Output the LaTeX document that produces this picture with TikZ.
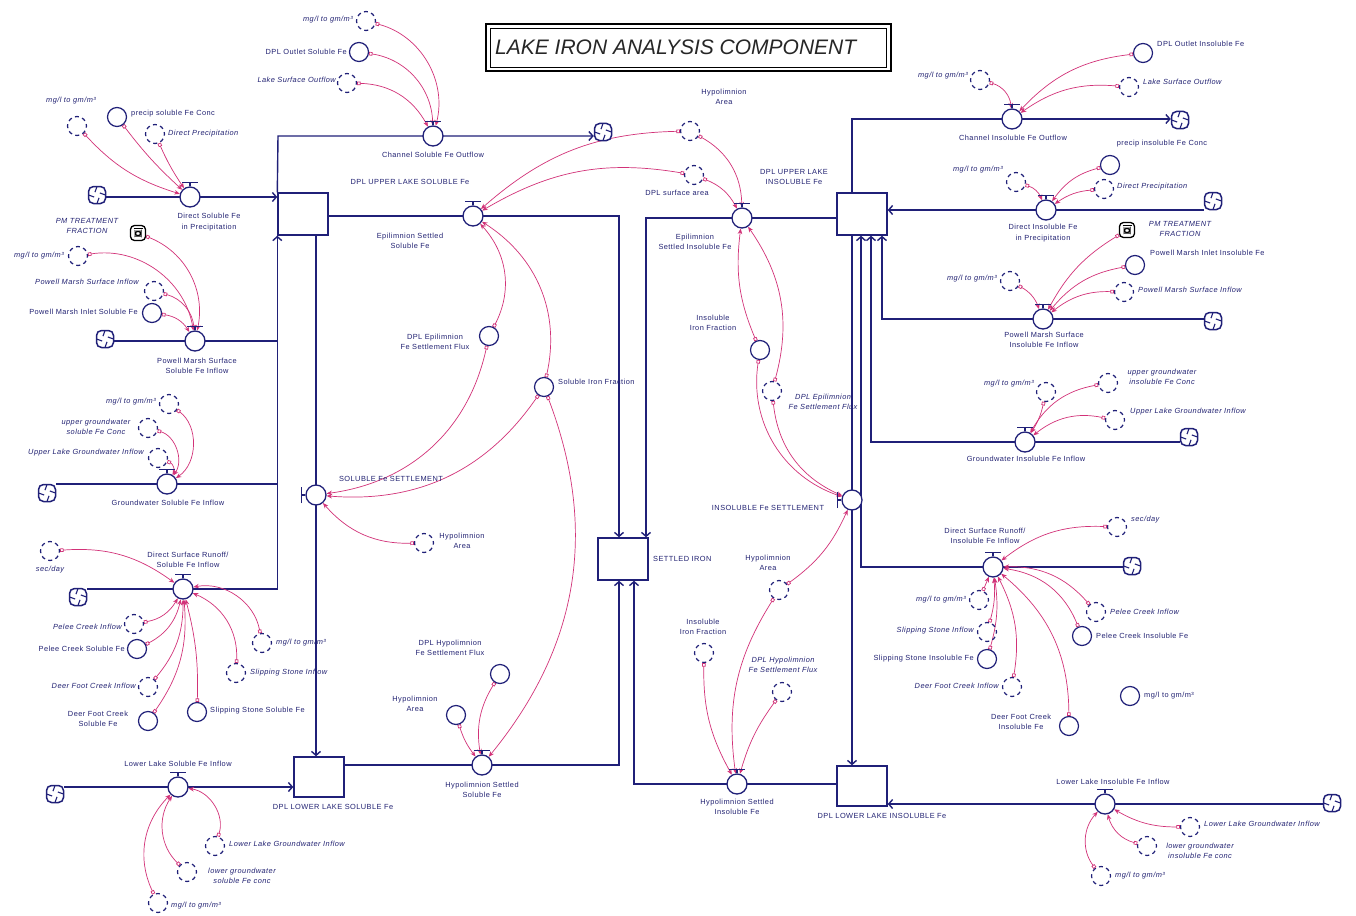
\documentclass[tikz,border=0pt]{standalone}
\usepackage{fontspec}
\newfontfamily\labfont[LetterSpace=6]{Liberation Sans}
\newfontfamily\titlefont{Liberation Sans}
\usetikzlibrary{arrows.meta,calc,backgrounds}
\definecolor{pipeblue}{RGB}{32,32,120}
\definecolor{txtblue}{RGB}{35,35,115}
\definecolor{linkc}{RGB}{210,50,120}
\newcommand\labsize{\fontsize{7.4}{10.5}\selectfont}
\tikzset{
  conv/.style={circle,draw=pipeblue,line width=1.2pt,minimum size=19pt,inner sep=0pt},
  gconv/.style={conv,dash pattern=on 4pt off 3.46pt,dash phase=2pt},
  valve/.style={circle,draw=pipeblue,fill=white,line width=1.3pt,minimum size=20pt,inner sep=0pt},
  stock/.style={draw=pipeblue,fill=white,line width=1.4pt,minimum width=50pt,minimum height=42pt,inner sep=0pt},
  cloud/.style={draw=pipeblue,fill=white,line width=1.5pt,rounded corners=5pt,minimum size=17pt,inner sep=0pt,
    path picture={\foreach \a in {0,90,180,270}{\draw[line width=1.1pt,pipeblue] ($(path picture bounding box.center)+(\a:8.5pt)$) -- ($(path picture bounding box.center)+(\a+35:3.5pt)$);}}},
  pmicon/.style={draw=black,fill=white,line width=1.3pt,rounded corners=4pt,minimum width=15pt,minimum height=15pt,inner sep=0pt,
    path picture={\draw[black,line width=1pt] ($(path picture bounding box.center)+(-3pt,-3pt)$) rectangle ($(path picture bounding box.center)+(3pt,2pt)$);
      \draw[black,line width=1pt] ($(path picture bounding box.north west)+(3pt,-3pt)$) -- ($(path picture bounding box.north east)+(-3pt,-3pt)$);}},
  lab/.style={text=txtblue,font=\labfont\labsize,inner sep=0pt,align=center},
  glab/.style={lab,font=\labfont\labsize\itshape},
  pipe/.style={draw=pipeblue,line width=1.4pt},
  pipeA/.style={pipe,-{Straight Barb[length=4pt,width=9pt]}},
  link/.style={draw=linkc,line width=0.7pt,{Square[open,length=3.5pt,width=3.5pt]}-{Stealth[length=5.5pt,width=4.5pt]}},
  vl/.style={bend left=#1},
  vr/.style={bend right=#1},
}
\newcommand\vlvH[2]{\node[valve] (#1) at (#2) {};
  \draw[pipe] ($(#1.north)+(-8pt,4pt)$) -- ($(#1.north)+(8pt,4pt)$) (#1.north) -- ($(#1.north)+(0pt,4pt)$);}
\newcommand\vlvV[2]{\node[valve] (#1) at (#2) {};
  \draw[pipe] ($(#1.west)+(-4pt,-8pt)$) -- ($(#1.west)+(-4pt,8pt)$) (#1.west) -- ($(#1.west)+(-4pt,0pt)$);}
\begin{document}
\begin{tikzpicture}[x=1pt,y=-1pt]
\useasboundingbox (0,0) rectangle (1356,915);

% title
\node[draw=black,line width=2.2pt,minimum width=405pt,minimum height=47pt,inner sep=0pt] (T1) at (688.5,47.5) {};
\node[draw=black,line width=0.7pt,minimum width=396pt,minimum height=39pt,inner sep=0pt] (T2) at (688.5,47.5) {};
\node[anchor=west,text=black!85,font=\titlefont\fontsize{21}{24}\selectfont\itshape,inner sep=0pt] (Tt) at (495,47) {LAKE IRON ANALYSIS COMPONENT};

% stocks
\node[stock] (SUS) at (303,214) {};
\node[stock] (SUI) at (862,214) {};
\node[stock] (SET) at (623,559) {};
\node[stock,minimum height=40pt] (SLS) at (319,777) {};
\node[stock,minimum height=40pt] (SLI) at (862,786) {};
\node[lab] (lSUS) at (410,182) {DPL UPPER LAKE SOLUBLE Fe};
\node[lab] (lSUI) at (794,177) {DPL UPPER LAKE\\INSOLUBLE Fe};
\node[lab,anchor=west] (lSET) at (653,559) {SETTLED IRON};
\node[lab] (lSLS) at (333,807) {DPL LOWER LAKE SOLUBLE Fe};
\node[lab] (lSLI) at (882,816) {DPL LOWER LAKE INSOLUBLE Fe};

% clouds
\node[cloud] (CL1) at (603,132) {};
\node[cloud] (CL2) at (97,195) {};
\node[cloud] (CL3) at (105,339) {};
\node[cloud] (CL4) at (47,493) {};
\node[cloud] (CL5) at (78,597) {};
\node[cloud] (CL6) at (55,794) {};
\node[cloud] (CR1) at (1180,120) {};
\node[cloud] (CR2) at (1213,201) {};
\node[cloud] (CR3) at (1213,321) {};
\node[cloud] (CR4) at (1189,437) {};
\node[cloud] (CR5) at (1132,566) {};
\node[cloud] (CR6) at (1332,803) {};

% valves
\vlvH{VA}{433,136}
\vlvH{VB}{190,197}
\vlvH{VC}{195,341}
\vlvH{VD}{167,484}
\vlvH{VE}{183,589}
\vlvH{VF}{178,787}
\vlvH{VG}{473,216}
\vlvH{VH}{742,218}
\vlvV{VI}{316,495}
\vlvH{VJ}{482,765}
\vlvV{VK}{852,500}
\vlvH{VL}{737,784}
\vlvH{VM}{1012,119}
\vlvH{VN}{1046,210}
\vlvH{VO}{1043,319}
\vlvH{VP}{1025,442}
\vlvH{VQ}{993,567}
\vlvH{VR}{1105,804}

% ---------- left side ----------
\node[gconv] (ca1) at (366,21) {};
\node[glab,anchor=east] (la1) at (353,20) {mg/l to gm/m³};
\node[conv] (ca2) at (359,52) {};
\node[lab,anchor=east] (la2) at (347,52) {DPL Outlet Soluble Fe};
\node[gconv] (ca3) at (347,83) {};
\node[glab,anchor=east] (la3) at (336,80) {Lake Surface Outflow};
\node[lab] (lVA) at (433,155) {Channel Soluble Fe Outflow};

\node[gconv] (cb1) at (77,126) {};
\node[glab] (lb1) at (71,101) {mg/l to gm/m³};
\node[conv] (cb2) at (117,117) {};
\node[lab,anchor=west] (lb2) at (131,114) {precip soluble Fe Conc};
\node[gconv] (cb3) at (155,134) {};
\node[glab,anchor=west] (lb3) at (168,134) {Direct Precipitation};
\node[lab] (lVB) at (209,222) {Direct Soluble Fe\\in Precipitation};

\node[pmicon] (cc1) at (138,233) {};
\node[glab] (lc1) at (87,226) {PM TREATMENT\\FRACTION};
\node[gconv] (cc2) at (78,256) {};
\node[glab,anchor=east] (lc2) at (64,256) {mg/l to gm/m³};
\node[gconv] (cc3) at (154,291) {};
\node[glab,anchor=east] (lc3) at (139,282) {Powell Marsh Surface Inflow};
\node[conv] (cc4) at (152,313) {};
\node[lab,anchor=east] (lc4) at (138,312) {Powell Marsh Inlet Soluble Fe};
\node[lab] (lVC) at (197,366) {Powell Marsh Surface\\Soluble Fe Inflow};

\node[gconv] (cd1) at (169,404) {};
\node[glab,anchor=east] (ld1) at (156,402) {mg/l to gm/m³};
\node[gconv] (cd2) at (148,428) {};
\node[glab] (ld2) at (96,427) {upper groundwater\\soluble Fe Conc};
\node[gconv] (cd3) at (158,458) {};
\node[glab,anchor=east] (ld3) at (144,453) {Upper Lake Groundwater Inflow};
\node[lab] (lVD) at (168,503) {Groundwater Soluble Fe Inflow};

\node[gconv] (ce1) at (50,551) {};
\node[glab] (le1) at (50,570) {sec/day};
\node[gconv] (ce2) at (134,624) {};
\node[glab,anchor=east] (le2) at (122,627) {Pelee Creek Inflow};
\node[conv] (ce3) at (137,649) {};
\node[lab,anchor=east] (le3) at (125,649) {Pelee Creek Soluble Fe};
\node[gconv] (ce4) at (148,687) {};
\node[glab,anchor=east] (le4) at (136,686) {Deer Foot Creek Inflow};
\node[conv] (ce5) at (148,721) {};
\node[lab] (le5) at (98,719) {Deer Foot Creek\\Soluble Fe};
\node[gconv] (ce6) at (262,643) {};
\node[glab,anchor=west] (le6) at (276,643) {mg/l to gm/m³};
\node[gconv] (ce7) at (236,673) {};
\node[glab,anchor=west] (le7) at (250,673) {Slipping Stone Inflow};
\node[conv] (ce8) at (197,712) {};
\node[lab,anchor=west] (le8) at (210,711) {Slipping Stone Soluble Fe};
\node[lab] (lVE) at (188,560) {Direct Surface Runoff/\\Soluble Fe Inflow};

\node[gconv] (cf1) at (215,846) {};
\node[glab,anchor=west] (lf1x) at (229,844) {Lower Lake Groundwater Inflow};
\node[gconv] (cf2) at (187,872) {};
\node[glab] (lf2x) at (242,876) {lower groundwater\\soluble Fe conc};
\node[gconv] (cf3) at (158,903) {};
\node[glab,anchor=west] (lf3x) at (171,906) {mg/l to gm/m³};
\node[lab] (lVF) at (178,764) {Lower Lake Soluble Fe Inflow};

% ---------- middle ----------
\node[gconv] (h1) at (690,131) {};
\node[lab] (lh1) at (724,97) {Hypolimnion\\Area};
\node[gconv] (h2) at (694,175) {};
\node[lab] (lh2) at (677,193) {DPL surface area};
\node[lab] (lVG) at (410,241) {Epilimnion Settled\\Soluble Fe};
\node[lab] (lVH) at (695,242) {Epilimnion\\Settled Insoluble Fe};
\node[conv] (f1) at (489,336) {};
\node[lab] (lf1) at (435,342) {DPL Epilimnion\\Fe Settlement Flux};
\node[conv] (f2) at (544,387) {};
\node[lab,anchor=west] (lf2) at (558,382) {Soluble Iron Fraction};
\node[lab] (lVI) at (391,479) {SOLUBLE Fe SETTLEMENT};
\node[gconv] (h3) at (424,543) {};
\node[lab] (lh3) at (462,541) {Hypolimnion\\Area};
\node[lab] (lVJ) at (482,790) {Hypolimnion Settled\\Soluble Fe};
\node[conv] (f3) at (500,674) {};
\node[lab] (lf3) at (450,648) {DPL Hypolimnion\\Fe Settlement Flux};
\node[conv] (f4) at (456,715) {};
\node[lab] (lf4) at (415,704) {Hypolimnion\\Area};
\node[lab] (lVK) at (768,508) {INSOLUBLE Fe SETTLEMENT};
\node[conv] (f5) at (760,350) {};
\node[lab] (lf5) at (713,323) {Insoluble\\Iron Fraction};
\node[gconv] (f6) at (772,391) {};
\node[glab] (lf6) at (823,402) {DPL Epilimnion\\Fe Settlement Flux};
\node[gconv] (h4) at (779,590) {};
\node[lab] (lh4) at (768,563) {Hypolimnion\\Area};
\node[gconv] (f7) at (704,653) {};
\node[lab] (lf7) at (703,627) {Insoluble\\Iron Fraction};
\node[gconv] (f8) at (782,692) {};
\node[glab] (lf8) at (783,665) {DPL Hypolimnion\\Fe Settlement Flux};
\node[lab] (lVL) at (737,807) {Hypolimnion Settled\\Insoluble Fe};

% ---------- right side ----------
\node[gconv] (cm1) at (980,80) {};
\node[glab,anchor=east] (lm1) at (968,76) {mg/l to gm/m³};
\node[conv] (cm2) at (1143,53) {};
\node[lab,anchor=west] (lm2) at (1157,44) {DPL Outlet Insoluble Fe};
\node[gconv] (cm3) at (1129,87) {};
\node[glab,anchor=west] (lm3) at (1143,82) {Lake Surface Outflow};
\node[lab] (lVM) at (1013,138) {Channel Insoluble Fe Outflow};

\node[gconv] (cn1) at (1016,182) {};
\node[glab,anchor=east] (ln1) at (1003,170) {mg/l to gm/m³};
\node[conv] (cn2) at (1110,165) {};
\node[lab] (ln2) at (1162,144) {precip insoluble Fe Conc};
\node[gconv] (cn3) at (1104,189) {};
\node[glab,anchor=west] (ln3) at (1117,187) {Direct Precipitation};
\node[lab] (lVN) at (1043,233) {Direct Insoluble Fe\\in Precipitation};

\node[pmicon] (co1) at (1127,230) {};
\node[glab] (lo1) at (1180,229) {PM TREATMENT\\FRACTION};
\node[conv] (co2) at (1135,265) {};
\node[lab,anchor=west] (lo2) at (1150,253) {Powell Marsh Inlet Insoluble Fe};
\node[gconv] (co3) at (1124,292) {};
\node[glab,anchor=west] (lo3) at (1138,290) {Powell Marsh Surface Inflow};
\node[gconv] (co4) at (1010,281) {};
\node[glab,anchor=east] (lo4) at (997,279) {mg/l to gm/m³};
\node[lab] (lVO) at (1044,340) {Powell Marsh Surface\\Insoluble Fe Inflow};

\node[gconv] (cp1) at (1046,392) {};
\node[glab,anchor=east] (lp1) at (1034,384) {mg/l to gm/m³};
\node[gconv] (cp2) at (1108,383) {};
\node[glab] (lp2) at (1162,377) {upper groundwater\\insoluble Fe Conc};
\node[gconv] (cp3) at (1115,420) {};
\node[glab,anchor=west] (lp3) at (1130,412) {Upper Lake Groundwater Inflow};
\node[lab] (lVP) at (1026,459) {Groundwater Insoluble Fe Inflow};

\node[gconv] (cq1) at (1117,527) {};
\node[glab,anchor=west] (lq1) at (1131,520) {sec/day};
\node[gconv] (cq2) at (979,600) {};
\node[glab,anchor=east] (lq2) at (966,600) {mg/l to gm/m³};
\node[gconv] (cq3) at (1096,612) {};
\node[glab,anchor=west] (lq3) at (1110,612) {Pelee Creek Inflow};
\node[conv] (cq4) at (1082,636) {};
\node[lab,anchor=west] (lq4) at (1096,636) {Pelee Creek Insoluble Fe};
\node[gconv] (cq5) at (987,632) {};
\node[glab,anchor=east] (lq5) at (974,631) {Slipping Stone Inflow};
\node[conv] (cq6) at (987,659) {};
\node[lab,anchor=east] (lq6) at (974,659) {Slipping Stone Insoluble Fe};
\node[gconv] (cq7) at (1012,687) {};
\node[glab,anchor=east] (lq7) at (999,686) {Deer Foot Creek Inflow};
\node[conv] (cq8) at (1069,726) {};
\node[lab] (lq8) at (1021,722) {Deer Foot Creek\\Insoluble Fe};
\node[conv] (cq9) at (1130,696) {};
\node[lab,anchor=west] (lq9) at (1144,696) {mg/l to gm/m³};
\node[lab] (lVQ) at (985,536) {Direct Surface Runoff/\\Insoluble Fe Inflow};

\node[gconv] (cr1) at (1190,827) {};
\node[glab,anchor=west] (lr1) at (1204,824) {Lower Lake Groundwater Inflow};
\node[gconv] (cr2) at (1147,846) {};
\node[glab] (lr2) at (1200,851) {lower groundwater\\insoluble Fe conc};
\node[gconv] (cr3) at (1101,876) {};
\node[glab,anchor=west] (lr3) at (1115,876) {mg/l to gm/m³};
\node[lab] (lVR) at (1113,782) {Lower Lake Insoluble Fe Inflow};

% junction coordinates
\coordinate (j1) at (619,216);
\coordinate (j2) at (646,218);
\coordinate (j3) at (619,765);
\coordinate (j4) at (634,784);
\coordinate (j5) at (852,119);
\coordinate (j6) at (882,319);
\coordinate (j7) at (871,442);
\coordinate (j8) at (861,567);
\coordinate (j9) at (278,136);

\begin{scope}[on background layer]
\fill[white] (0,0) rectangle (1356,915);
% pipes
\draw[pipeA] (SUS.north west) -- (j9) -- (CL1.west |- j9);
\draw[pipeA] (CL2.east |- VB) -- (SUS.west |- VB);
\draw[pipeA] (CL5.east |- VE) -- (SUS.south west |- VE) -- (SUS.south west);
\draw[pipe] (CL4.east |- VD) -- (SUS.south west |- VD);
\draw[pipe] (CL3.east |- VC) -- (SUS.south west |- VC);
\draw[pipeA] (SUS.south -| VI) -- (SLS.north -| VI);
\draw[pipeA] (SUS.east |- VG) -- (j1) -- (SET.north -| j1);
\draw[pipeA] (SUI.west |- VH) -- (j2) -- (SET.north -| j2);
\draw[pipeA] (SLS.east |- VJ) -- (j3) -- (SET.south -| j3);
\draw[pipeA] (SLI.west |- VL) -- (j4) -- (SET.south -| j4);
\draw[pipeA] (CL6.east |- VF) -- (SLS.west |- VF);
\draw[pipeA] (SUI.south -| VK) -- (SLI.north -| VK);
\draw[pipeA] (SUI.north -| j5) -- (j5) -- (CR1.west |- j5);
\draw[pipeA] (CR2.west |- VN) -- (SUI.east |- VN);
\draw[pipeA] (CR3.west |- VO) -- (j6) -- (SUI.south -| j6);
\draw[pipeA] (CR4.west |- VP) -- (j7) -- (SUI.south -| j7);
\draw[pipeA] (CR5.west |- VQ) -- (j8) -- (SUI.south -| j8);
\draw[pipeA] (CR6.west |- VR) -- (SLI.east |- VR);

% links left
\draw[link,vl=45] (ca1) to (VA);
\draw[link,vl=40] (ca2) to (VA);
\draw[link,vl=30] (ca3) to (VA);
\draw[link,vr=15] (cb1) to (VB);
\draw[link,vr=5] (cb2) to (VB);
\draw[link,vr=5] (cb3) to (VB);
\draw[link,vl=40] (cc1) to (VC);
\draw[link,vl=45] (cc2) to (VC);
\draw[link,vl=35] (cc3) to (VC);
\draw[link,vl=25] (cc4) to (VC);
\draw[link,vl=55] (cd1) to (VD);
\draw[link,vl=55] (cd2) to (VD);
\draw[link,vl=50] (cd3) to (VD);
\draw[link,vl=20] (ce1) to (VE);
\draw[link,vr=25] (ce2) to (VE);
\draw[link,vr=25] (ce3) to (VE);
\draw[link,vr=20] (ce4) to (VE);
\draw[link,vr=20] (ce5) to (VE);
\draw[link,vr=45] (ce6) to (VE);
\draw[link,vr=35] (ce7) to (VE);
\draw[link,vr=8] (ce8) to (VE);
\draw[link,vr=50] (cf1) to (VF);
\draw[link,vl=40] (cf2) to (VF);
\draw[link,vl=35] (cf3) to (VF);
% links middle
\draw[link,vr=20] (h1) to (VG);
\draw[link,vr=20] (h2) to (VG);
\draw[link,vr=35] (f1) to (VG);
\draw[link,vr=35] (f2) to (VG);
\draw[link,vl=30] (h1) to (VH);
\draw[link,vl=20] (h2) to (VH);
\draw[link,vl=35] (f1) to (VI);
\draw[link,vl=30] (f2) to (VI);
\draw[link,vl=25] (h3) to (VI);
\draw[link,vl=30] (f2) to (VJ);
\draw[link,vr=20] (f3) to (VJ);
\draw[link,vr=10] (f4) to (VJ);
\draw[link,vr=40] (f5) to (VK);
\draw[link,vr=30] (f6) to (VK);
\draw[link,vr=15] (h4) to (VK);
\draw[link,vl=15] (f5) to (VH);
\draw[link,vr=25] (f6) to (VH);
\draw[link,vr=15] (f7) to (VL);
\draw[link,vr=20] (h4) to (VL);
\draw[link,vr=10] (f8) to (VL);
% links right
\draw[link,vl=35] (cm1) to (VM);
\draw[link,vr=20] (cm2) to (VM);
\draw[link,vr=20] (cm3) to (VM);
\draw[link,vl=25] (cn1) to (VN);
\draw[link,vr=20] (cn2) to (VN);
\draw[link,vr=15] (cn3) to (VN);
\draw[link,vr=15] (co1) to (VO);
\draw[link,vr=20] (co2) to (VO);
\draw[link,vr=20] (co3) to (VO);
\draw[link,vl=20] (co4) to (VO);
\draw[link,vl=10] (cp1) to (VP);
\draw[link,vr=25] (cp2) to (VP);
\draw[link,vr=25] (cp3) to (VP);
\draw[link,vr=20] (cq1) to (VQ);
\draw[link] (cq2) to (VQ);
\draw[link,vr=25] (cq3) to (VQ);
\draw[link,vr=30] (cq4) to (VQ);
\draw[link,vr=10] (cq5) to (VQ);
\draw[link,vr=12] (cq6) to (VQ);
\draw[link,vr=18] (cq7) to (VQ);
\draw[link,vr=25] (cq8) to (VQ);
\draw[link,vl=15] (cr1) to (VR);
\draw[link,vl=30] (cr2) to (VR);
\draw[link,vl=40] (cr3) to (VR);
\end{scope}
\end{tikzpicture}
\end{document}
